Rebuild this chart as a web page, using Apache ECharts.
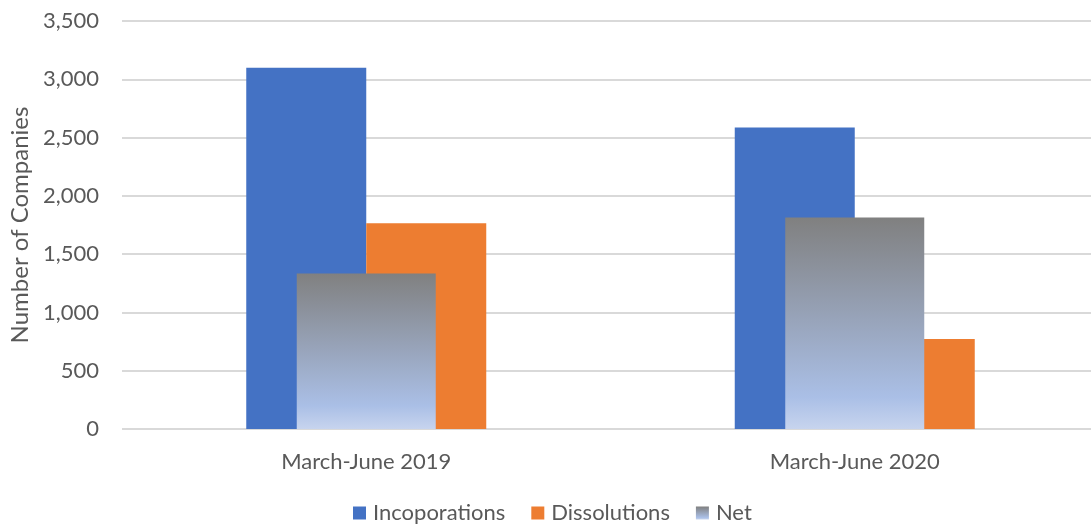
<!DOCTYPE html>
<html>
<head>
<meta charset="utf-8">
<script src="https://cdn.jsdelivr.net/npm/echarts@6/dist/echarts.min.js"></script>
<style>html,body{margin:0;padding:0;background:#fff;}#c{width:1091px;height:527px;}</style>
</head>
<body>
<div id="c"></div>
<script>
const categories = ['March-June 2019', 'March-June 2020'];
const incorporations = [3100, 2586];
const dissolutions = [1765, 772];
const net = [1335, 1814];
const yTicks = [0, 500, 1000, 1500, 2000, 2500, 3000, 3500];

const FONT = 'Lato';
const TXT = '#595959';
const chart = echarts.init(document.getElementById('c'), null, {renderer: 'canvas'});
const netGrad = new echarts.graphic.LinearGradient(0, 0, 0, 1, [
  {offset: 0, color: '#808080'},
  {offset: 0.85, color: '#aabfe6'},
  {offset: 1, color: '#c7d4ee'}
]);
chart.setOption({
  animation: false,
  textStyle: {fontFamily: FONT},
  grid: {left: 122, top: 21, width: 977, height: 408, containLabel: false, outerBoundsMode: 'none'},
  legend: {
    bottom: -2, left: 348, itemWidth: 13, itemHeight: 13, itemGap: 26,
    icon: 'rect',
    textStyle: {color: TXT, fontSize: 22, fontFamily: FONT, padding: [0, 0, 0, 2]},
    data: ['Incoporations', 'Dissolutions', 'Net']
  },
  xAxis: [{
    type: 'category', data: categories,
    axisLine: {show: false}, axisTick: {show: false},
    axisLabel: {color: TXT, fontSize: 22, margin: 22, fontFamily: FONT}
  }, {
    type: 'category', data: categories, show: false
  }],
  yAxis: {
    type: 'value', min: yTicks[0], max: yTicks[yTicks.length - 1], interval: 500,
    name: 'Number of Companies', nameLocation: 'middle', nameGap: 88,
    nameTextStyle: {color: TXT, fontSize: 24, fontFamily: FONT},
    axisLine: {show: false}, axisTick: {show: false},
    axisLabel: {color: TXT, fontSize: 22, margin: 23, fontFamily: FONT,
      formatter: v => v.toLocaleString('en-US')},
    splitLine: {lineStyle: {color: '#d9d9d9', width: 2}}
  },
  series: [
    {name: 'Incoporations', type: 'bar', xAxisIndex: 0, data: incorporations,
      barWidth: 120, barGap: '0%', itemStyle: {color: '#4472c4'}},
    {name: 'Dissolutions', type: 'bar', xAxisIndex: 0, data: dissolutions,
      barWidth: 120, barGap: '0%', itemStyle: {color: '#ed7d31'}},
    {name: 'Net', type: 'bar', xAxisIndex: 1, data: net,
      barWidth: 139, itemStyle: {color: netGrad}}
  ]
});
</script>
</body>
</html>
